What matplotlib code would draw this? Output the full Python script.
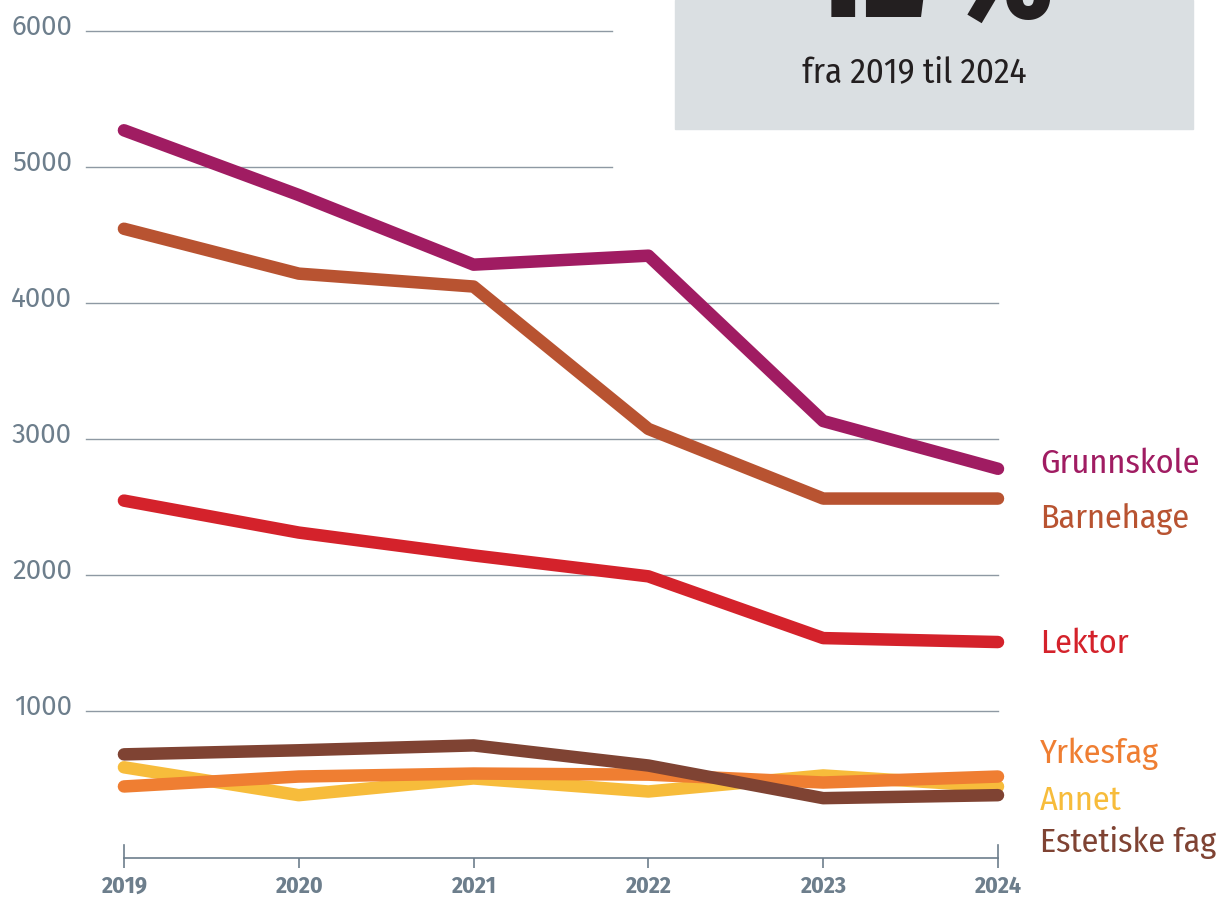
import matplotlib
matplotlib.use("Agg")
import matplotlib.pyplot as plt
from matplotlib.patches import Rectangle

# data
years = [2019, 2020, 2021, 2022, 2023, 2024]
grunnskole = [5268, 4792, 4280, 4346, 3130, 2779]
barnehage = [4544, 4214, 4119, 3072, 2560, 2560]
lektor = [2545, 2310, 2142, 1988, 1534, 1505]
yrkesfag = [443, 516, 538, 530, 472, 516]
annet = [584, 379, 502, 406, 524, 443]
estetiske = [679, 709, 745, 597, 357, 379]

series_names = ["Grunnskole", "Barnehage", "Lektor", "Yrkesfag", "Annet", "Estetiske fag"]
y_ticks = [1000, 2000, 3000, 4000, 5000, 6000]
headline = "42 %"
subline = "fra 2019 til 2024"

colors = {
    "Grunnskole": "#a01c62",
    "Barnehage": "#b85331",
    "Lektor": "#d4222b",
    "Yrkesfag": "#ef7e32",
    "Annet": "#f7bc3b",
    "Estetiske fag": "#7f4333",
}
grey = "#6d7e8c"
grid_grey = "#8e99a3"

cond = ["Fira Sans Condensed", "Roboto Condensed", "Roboto"]
regular = ["Fira Sans", "Open Sans"]

W, H = 1229, 897
fig = plt.figure(figsize=(W / 100, H / 100), dpi=100)


def px(x, y):
    # pixel position (from top-left) -> figure fraction
    return x / W, 1 - y / H


# axes placed so that 2019 sits at x=124 and 2024 at x=998
left, right, bottom = 86, 998, 858
ax = fig.add_axes([left / W, 1 - bottom / H, (right - left) / W, bottom / H])
ax.set_xlim(2018.783, 2024)
ax.set_ylim(-83, 6226)
ax.patch.set_alpha(0)

# grid lines (the two top ones stop short of the box)
for v in y_ticks:
    x_end = 2021.79 if v >= 5000 else 2024
    ax.plot([2018.783, x_end], [v, v], color=grid_grey, lw=1.0, zorder=1,
            clip_on=False)
    ax.annotate(str(v), xy=(0, v), xycoords=("axes fraction", "data"),
                xytext=(-14, -4), textcoords="offset pixels",
                ha="right", va="baseline", fontsize=20, color=grey,
                family=regular)

# lines
order = ["Annet", "Yrkesfag", "Estetiske fag", "Lektor", "Barnehage", "Grunnskole"]
values = {
    "Grunnskole": grunnskole,
    "Barnehage": barnehage,
    "Lektor": lektor,
    "Yrkesfag": yrkesfag,
    "Annet": annet,
    "Estetiske fag": estetiske,
}
for name in order:
    ax.plot(years, values[name], color=colors[name], lw=9,
            solid_capstyle="round", solid_joinstyle="round", zorder=3,
            clip_on=False)

# x axis
for s in ["left", "right", "top"]:
    ax.spines[s].set_visible(False)
ax.spines["bottom"].set_bounds(years[0], years[-1])
ax.spines["bottom"].set_color(grey)
ax.spines["bottom"].set_linewidth(1.2)
ax.set_yticks([])
ax.set_xticks(years)
ax.set_xticklabels([])
ax.tick_params(axis="x", direction="out", length=7, width=1.2, color=grey)
for yr in [years[0], years[-1]]:
    ax.plot([yr, yr], [-83, 12], color=grey, lw=1.2, clip_on=False)
for yr in years:
    ax.annotate(str(yr), xy=(yr, 0), xycoords=("data", "axes fraction"),
                xytext=(0, -35), textcoords="offset pixels",
                ha="center", va="baseline", fontsize=17, fontweight="bold",
                color=grey, family=cond)

# series labels at the right
label_baselines = [473, 528, 653, 763, 810, 852]
for name, yb in zip(series_names, label_baselines):
    fig.text(*px(1040, yb), name, ha="left", va="baseline", fontsize=24.5,
             color=colors[name], family=cond)

# grey info box at top right
fig.patches.append(Rectangle(px(675, 129), 518 / W, 129 / H,
                             transform=fig.transFigure, color="#dadfe2",
                             zorder=0))
fig.text(*px(924, 17), headline, ha="center", va="baseline", fontsize=92,
         fontweight="black", color="#231f20", family=cond)
fig.text(*px(914, 82), subline, ha="center", va="baseline", fontsize=25.2,
         color="#231f20", family=cond)

fig.savefig("out.png", dpi=100)
